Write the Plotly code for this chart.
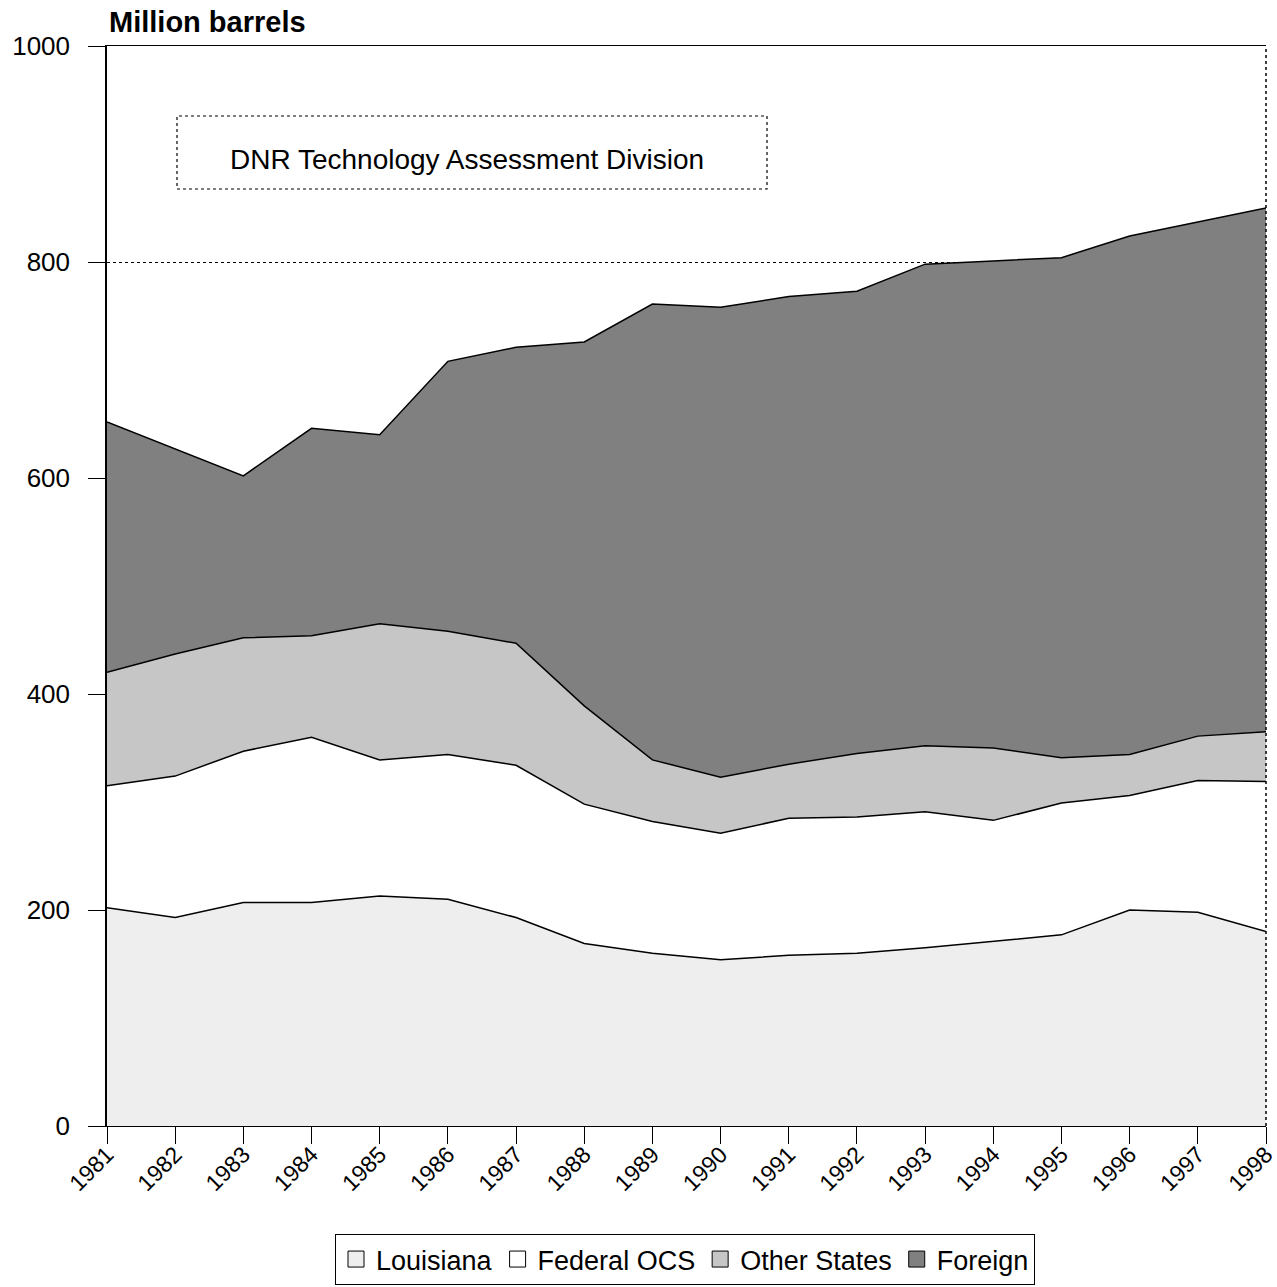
import plotly.graph_objects as go

# Crude oil supply by source, million barrels
years = [1981, 1982, 1983, 1984, 1985, 1986, 1987, 1988, 1989,
         1990, 1991, 1992, 1993, 1994, 1995, 1996, 1997, 1998]
year_labels = [str(y) for y in years]

louisiana = [202, 193, 207, 207, 213, 210, 193, 169, 160,
             154, 158, 160, 165, 171, 177, 200, 198, 180]
federal_ocs = [113, 131, 140, 153, 126, 134, 141, 129, 122,
               117, 127, 126, 126, 112, 122, 106, 122, 139]
other_states = [105, 113, 105, 94, 126, 114, 113, 91, 57,
                52, 50, 59, 61, 67, 42, 38, 41, 46]
foreign = [232, 190, 150, 192, 175, 250, 274, 337, 422,
           435, 433, 428, 446, 451, 463, 480, 476, 485]

series = [
    ("Louisiana", louisiana, "#EEEEEE"),
    ("Federal OCS", federal_ocs, "#FFFFFF"),
    ("Other States", other_states, "#C6C6C6"),
    ("Foreign", foreign, "#808080"),
]

y_ticks = [0, 200, 400, 600, 800, 1000]

BASE_FONT = "Liberation Sans, Arial, sans-serif"

fig = go.Figure()
for name, vals, color in series:
    fig.add_trace(go.Scatter(
        x=years, y=vals, name=name, mode="lines",
        stackgroup="supply", fillcolor=color,
        line=dict(color="black", width=1.5),
        showlegend=False,
    ))

# square swatches for the legend
for name, vals, color in series:
    fig.add_trace(go.Scatter(
        x=[None], y=[None], name=name, mode="markers",
        marker=dict(symbol="square", size=20, color=color,
                    line=dict(color="black", width=1)),
        showlegend=True,
    ))

W, H = 1277, 1287
L, R, T, B = 107, 11, 46, 161
pw, ph = W - L - R, H - T - B


def px_x(p):
    return (p - L) / pw


def px_y(p):
    return (H - B - p) / ph


fig.update_layout(
    width=W, height=H,
    margin=dict(l=L, r=R, t=T, b=B, autoexpand=False),
    paper_bgcolor="white", plot_bgcolor="white",
    font=dict(family=BASE_FONT, color="black"),
    showlegend=True,
    legend=dict(
        orientation="h", traceorder="normal",
        x=px_x(685), xanchor="center", y=px_y(1285), yanchor="bottom",
        font=dict(size=27, family=BASE_FONT),
        bordercolor="black", borderwidth=1,
        itemwidth=30, tracegroupgap=0,
    ),
    xaxis=dict(
        range=[years[0], years[-1]],
        tickmode="array", tickvals=years, ticktext=year_labels,
        tickangle=-45, tickfont=dict(size=23),
        ticklabeloverflow="allow", automargin=False,
        ticklabelstandoff=-12,
        ticks="outside", ticklen=17, tickcolor="black",
        showline=True, linecolor="black", linewidth=1, mirror=True,
        showgrid=False, zeroline=False,
    ),
    yaxis=dict(
        range=[0, 1000], tickmode="array", tickvals=y_ticks,
        tickfont=dict(size=26), automargin=False,
        ticks="outside", ticklen=17, tickcolor="black",
        ticklabelstandoff=13,
        showline=True, linecolor="black", linewidth=1.5,
        showgrid=True, gridcolor="black", gridwidth=1, griddash="dot",
        zeroline=False,
    ),
)

# dotted right edge of the plot area
fig.add_shape(type="line", xref="paper", yref="paper",
              x0=1, x1=1, y0=0, y1=1,
              line=dict(color="black", width=1.5, dash="dot"))

# caption box
fig.add_shape(type="rect", xref="paper", yref="paper",
              x0=px_x(177), x1=px_x(767), y0=px_y(189), y1=px_y(116),
              line=dict(color="black", width=1.2, dash="dot"),
              fillcolor="white", layer="above")
fig.add_annotation(
    text="DNR Technology Assessment Division",
    xref="paper", yref="paper", x=px_x(467), y=px_y(159),
    xanchor="center", yanchor="middle", showarrow=False,
    font=dict(size=28, family=BASE_FONT),
)

# axis unit label
fig.add_annotation(
    text="<b>Million barrels</b>",
    xref="paper", yref="paper", x=0, y=px_y(22),
    xanchor="left", yanchor="middle", showarrow=False,
    font=dict(size=29, family=BASE_FONT),
)

fig.write_html("out.html")
